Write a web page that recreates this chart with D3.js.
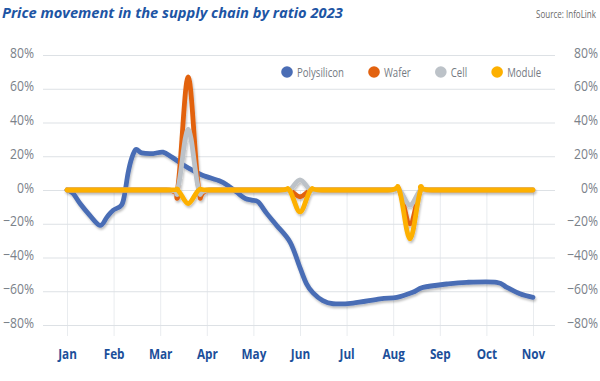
<!DOCTYPE html>
<html><head><meta charset="utf-8">
<script src="https://cdn.jsdelivr.net/npm/d3@7"></script>
<style>body{margin:0;background:#fff}svg{display:block}</style>
</head><body>
<svg id="c" width="600" height="381"></svg>
<script>
// ---------- data ----------
const months = ["Jan","Feb","Mar","Apr","May","Jun","Jul","Aug","Sep","Oct","Nov"];
const monthIdx = [0,1,2,3,4,5,6,7,8,9,10];
const yTicks = [80,60,40,20,0,-20,-40,-60,-80];
const yTickLabels = ["80%","60%","40%","20%","0%","\u221220%","\u221240%","\u221260%","\u221280%"];
const seriesNames = ["Polysilicon","Wafer","Cell","Module"];
const seriesColors = ["#4a6db5","#e2620f","#bcc2c8","#fdb000"];

// Polysilicon: position in months (0 = Jan) and % change
const polyX = [0,0.13,0.28,0.49,0.71,0.86,0.99,1.17,1.24,1.31,1.39,1.48,1.6,1.85,2.06,2.25,2.49,2.7,2.92,3.28,3.45,3.64,3.82,3.96,4.1,4.29,4.5,4.79,5.0,5.14,5.28,5.49,5.71,6.14,6.72,7.08,7.42,7.64,8.15,8.58,9.22,9.44,9.72,10];
const polyY = [0,-2,-8,-15,-21,-16,-12,-9,-2,10,19,24,22,21.6,22.4,19.5,15,11.6,8.6,5.3,2.7,-1.3,-5,-6,-7,-14,-21,-31,-46,-55.6,-61,-65.6,-67.4,-67,-64.5,-63.6,-60.6,-57.7,-55.7,-54.7,-54.7,-57.7,-61.5,-63.6];

// Wafer / Cell / Module share weekly positions around the price events
const flatX   = [0,2.14,2.37,2.6,2.83,3.06,4.54,4.77,5.0,5.23,5.46,6.9,7.13,7.36,7.59,7.82,10];
const waferY  = [0,0,0,67,0,0,0,0,-4,0,0,0,0,-20,0,0,0];
const cellY   = [0,0,0,36,0,0,0,0,6,0,0,0,0,-9,0,0,0];
const moduleY = [0,0,0,-8,0,0,0,0,-13,0,0,0,0,-29,0,0,0];

const seriesData = [
  polyX.map((m,i)=>[m,polyY[i]]),
  flatX.map((m,i)=>[m,waferY[i]]),
  flatX.map((m,i)=>[m,cellY[i]]),
  flatX.map((m,i)=>[m,moduleY[i]])
];

// ---------- drawing ----------
const svg = d3.select("#c");
const FONT = "'Open Sans', 'Noto Sans', sans-serif";
function measure(txt, size, weight, style){
  const t = svg.append("text").attr("font-family",FONT).attr("font-size",size)
    .attr("font-weight",weight||"normal").attr("font-style",style||"normal").text(txt);
  const w = t.node().getComputedTextLength(); t.remove(); return w;
}

const x = d3.scaleLinear().domain([0,10]).range([67,533]);
const y = d3.scaleLinear().domain([-80,80]).range([325,55]);

const defs = svg.append("defs");
const f = defs.append("filter").attr("id","sh").attr("x","-10%").attr("y","-10%").attr("width","120%").attr("height","130%");
f.append("feDropShadow").attr("dx",1).attr("dy",2).attr("stdDeviation",1.3)
  .attr("flood-color","#000").attr("flood-opacity",0.25);

// Title
const titleTxt = "Price movement in the supply chain by ratio 2023";
const titleSx = 341 / measure(titleTxt, 15, "bold", "italic");
svg.append("text").attr("transform",`translate(2,18) scale(${titleSx},1)`)
  .attr("font-family",FONT).attr("font-size",15).attr("font-weight","bold").attr("font-style","italic")
  .attr("fill","#1d55a4").text(titleTxt);
// Source
const srcTxt = "Source: InfoLink";
const srcSx = 60 / measure(srcTxt, 11);
svg.append("text").attr("transform",`translate(596,18) scale(${srcSx},1)`).attr("text-anchor","end")
  .attr("font-family",FONT).attr("font-size",11).attr("fill","#6a6a6a")
  .text(srcTxt);

// Tick label condensing factor
const tickSize = 15;
const tickSx = 24 / measure("80%", tickSize);
const monSize = 15;
const monSx = 18.7 / measure("Jan", monSize, "bold");

// Vertical grid + month labels (x axis)
const xAxis = d3.axisBottom(x).tickValues(monthIdx).tickFormat(i=>months[i]).tickSize(146).tickPadding(0);
const gx = svg.append("g").attr("transform",`translate(0,${y(0)})`).call(xAxis);
gx.select(".domain").remove();
gx.selectAll(".tick line").attr("stroke","#e9ecef").attr("stroke-width",1);
gx.selectAll(".tick text")
  .attr("y",0).attr("dy",0)
  .attr("transform",`translate(0,169) scale(${monSx},1)`)
  .attr("font-family",FONT).attr("font-size",monSize).attr("font-weight","bold").attr("fill","#1c4f9a");

// Horizontal grid + left labels
const yAxisL = d3.axisLeft(y).tickValues(yTicks).tickFormat((d,i)=>yTickLabels[i]).tickSize(-512).tickPadding(9);
const gyl = svg.append("g").attr("transform","translate(43,0)").call(yAxisL);
gyl.select(".domain").remove();
gyl.selectAll(".tick line").attr("stroke","#dde1e5").attr("stroke-width",1.2);
gyl.selectAll(".tick text")
  .attr("x",0).attr("dy",0)
  .attr("transform",`translate(-9,2) scale(${tickSx},1)`)
  .attr("font-family",FONT).attr("font-size",tickSize).attr("fill","#7b828a");

// Right labels
const yAxisR = d3.axisRight(y).tickValues(yTicks).tickFormat((d,i)=>yTickLabels[i]).tickSize(0).tickPadding(0);
const gyr = svg.append("g").attr("transform","translate(598,0)").call(yAxisR);
gyr.select(".domain").remove();
gyr.selectAll(".tick line").remove();
gyr.selectAll(".tick text")
  .attr("x",0).attr("dy",0).attr("text-anchor","end")
  .attr("transform",`translate(0,2) scale(${tickSx},1)`)
  .attr("font-family",FONT).attr("font-size",tickSize).attr("fill","#7b828a");

// Lines
const line = d3.line().x(d=>x(d[0])).y(d=>y(d[1])).curve(d3.curveCatmullRom.alpha(0));
svg.append("g").attr("filter","url(#sh)")
  .selectAll("path").data(seriesData).join("path")
  .attr("d",line).attr("fill","none")
  .attr("stroke",(d,i)=>seriesColors[i]).attr("stroke-width",4.8)
  .attr("stroke-linejoin","round").attr("stroke-linecap","round");

// Legend
const legSize = 13;
const legSx = 47 / measure("Polysilicon", legSize);
const leg = svg.append("g");
let cx = 287;
seriesNames.forEach((n,i)=>{
  leg.append("circle").attr("cx",cx).attr("cy",72).attr("r",5.8).attr("fill",seriesColors[i]);
  const tx = cx + 10;
  leg.append("text").attr("transform",`translate(${tx},76.5) scale(${legSx},1)`)
    .attr("font-family",FONT).attr("font-size",legSize).attr("fill","#747a82").text(n);
  const w = measure(n, legSize) * legSx;
  cx = tx + w + 30;
});
</script>
</body></html>
